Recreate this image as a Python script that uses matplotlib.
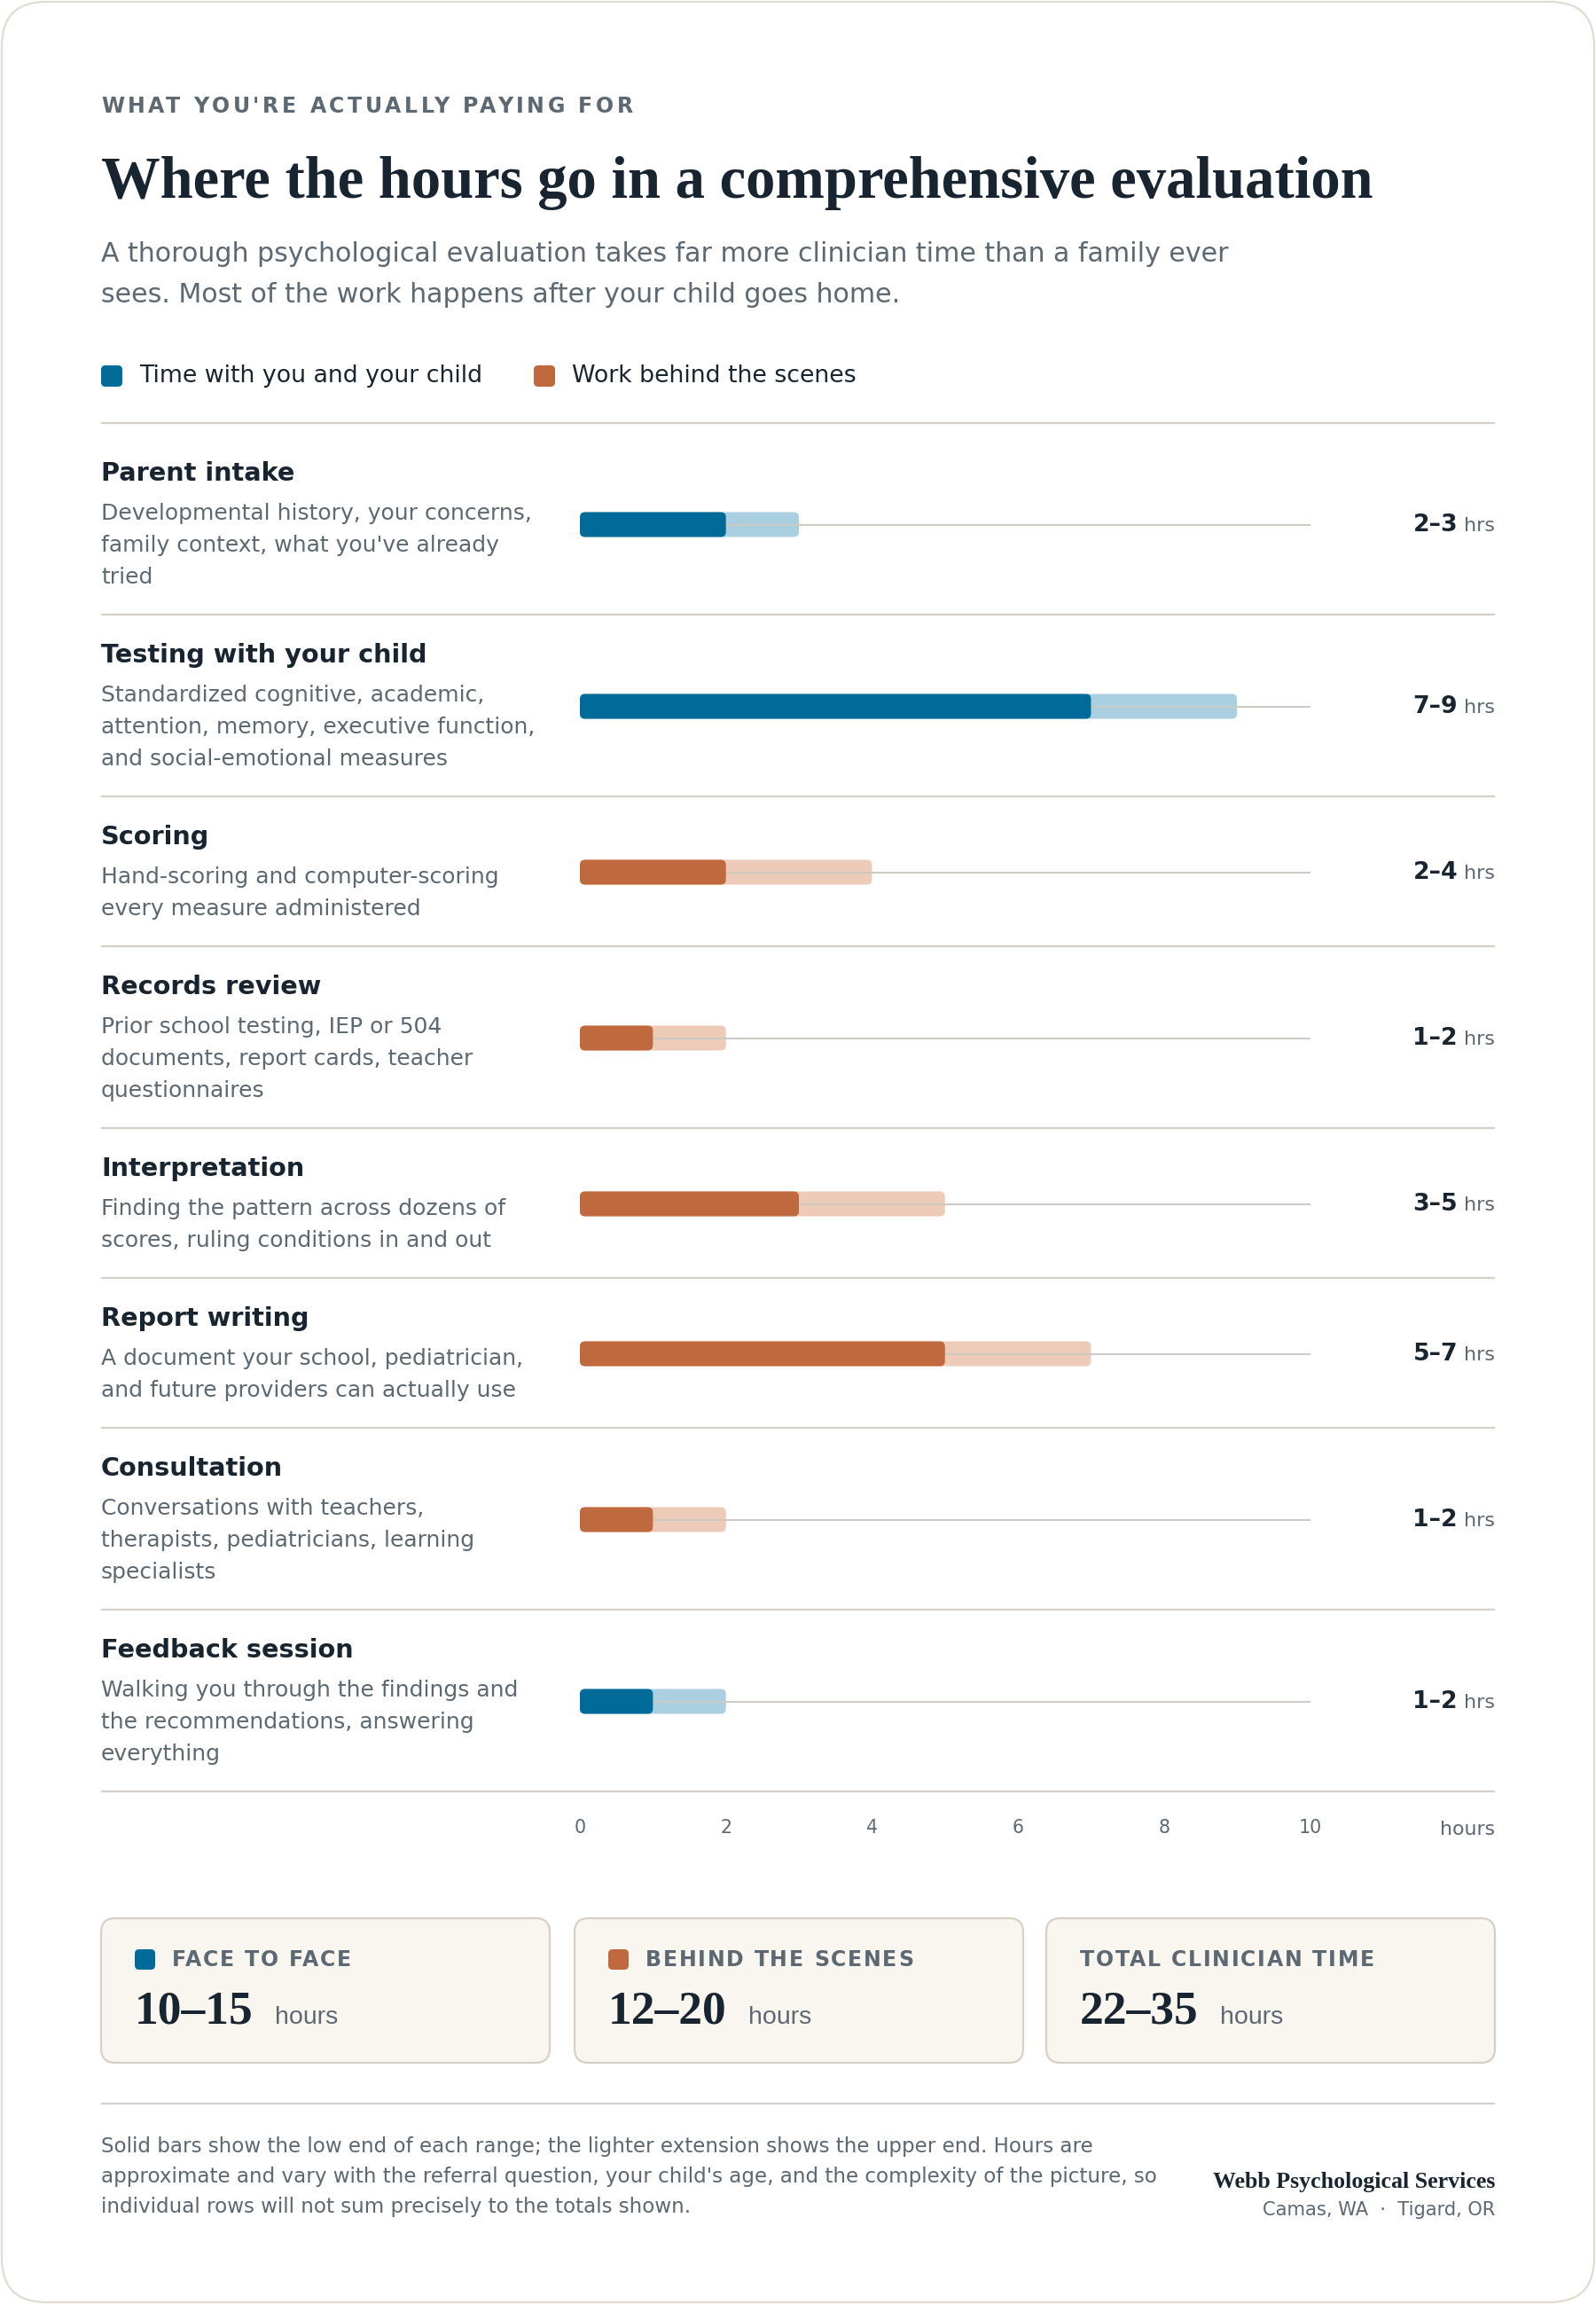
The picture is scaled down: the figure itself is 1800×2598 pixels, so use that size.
import matplotlib
matplotlib.use("Agg")
from matplotlib import pyplot as plt
from matplotlib.patches import FancyBboxPatch

# ---- data ----
tasks = ["Parent intake", "Testing with your child", "Scoring", "Records review",
         "Interpretation", "Report writing", "Consultation", "Feedback session"]
descs = [
    ["Developmental history, your concerns,", "family context, what you've already", "tried"],
    ["Standardized cognitive, academic,", "attention, memory, executive function,", "and social-emotional measures"],
    ["Hand-scoring and computer-scoring", "every measure administered"],
    ["Prior school testing, IEP or 504", "documents, report cards, teacher", "questionnaires"],
    ["Finding the pattern across dozens of", "scores, ruling conditions in and out"],
    ["A document your school, pediatrician,", "and future providers can actually use"],
    ["Conversations with teachers,", "therapists, pediatricians, learning", "specialists"],
    ["Walking you through the findings and", "the recommendations, answering", "everything"],
]
low_hrs = [2, 7, 2, 1, 3, 5, 1, 1]
high_hrs = [3, 9, 4, 2, 5, 7, 2, 2]
kinds = ["face", "face", "behind", "behind", "behind", "behind", "behind", "face"]
x_ticks = [0, 2, 4, 6, 8, 10]

legend_labels = ["Time with you and your child", "Work behind the scenes"]
card_labels = ["FACE TO FACE", "BEHIND THE SCENES", "TOTAL CLINICIAN TIME"]
card_values = ["10\u201315", "12\u201320", "22\u201335"]
card_kinds = ["face", "behind", None]

footnote = ["Solid bars show the low end of each range; the lighter extension shows the upper end. Hours are",
            "approximate and vary with the referral question, your child's age, and the complexity of the picture, so",
            "individual rows will not sum precisely to the totals shown."]

# ---- colours ----
solid = {"face": "#006b98", "behind": "#c0693f"}
light = {"face": "#a9cfe1", "behind": "#eecbb8"}
DARK = "#18242f"
GRAY = "#5c6872"
RULE = "#d5d0c8"
TRACK = "#cdc9c2"

W, H = 1800, 2598
fig = plt.figure(figsize=(W / 100, H / 100), dpi=100)
fig.patch.set_facecolor("white")
bg = fig.add_axes([0, 0, 1, 1])
bg.set_xlim(0, W)
bg.set_ylim(H, 0)
bg.axis("off")
R = fig.canvas.get_renderer()

L, RGT = 114, 1686


def text_w(s, **kw):
    t = bg.text(0, 0, s, **kw)
    w = t.get_window_extent(renderer=R).width
    t.remove()
    return w


def spaced(x, y, s, target, **kw):
    # letter-spaced caps, spacing chosen so the word fills target width
    sp = (target - text_w(s, **kw)) / (len(s) - 1)
    for i, ch in enumerate(s):
        if ch == " ":
            continue
        bg.text(x + text_w(s[:i + 1], **kw) + i * sp, y, ch, ha="right", **kw)


def rbox(x, y, w, h, r, **kw):
    bg.add_patch(FancyBboxPatch((x, y), w, h, boxstyle=f"round,pad=0,rounding_size={r}", **kw))


def hline(y, x0=L, x1=RGT):
    bg.plot([x0, x1], [y, y], color=RULE, lw=1.6, solid_capstyle="butt")


# outer frame
rbox(2, 2, W - 4, H - 4, 50, fc="white", ec="#e2dbd0", lw=1.6)

# header
spaced(L, 120, "WHAT YOU'RE ACTUALLY PAYING FOR", 600, fontsize=17, fontweight="bold",
       color=GRAY, va="center", family="DejaVu Sans")
bg.text(L, 223, "Where the hours go in a comprehensive evaluation", fontsize=48,
        fontweight="bold", family="Liberation Serif", color=DARK, va="baseline")
bg.text(L, 286, "A thorough psychological evaluation takes far more clinician time than a family ever",
        fontsize=21.6, color=GRAY, va="center")
bg.text(L, 332, "sees. Most of the work happens after your child goes home.",
        fontsize=21.6, color=GRAY, va="center")

# legend
for lx, tx, k, lab in [(114, 157, "face", legend_labels[0]), (602, 645, "behind", legend_labels[1])]:
    rbox(lx, 412, 24, 24, 5, fc=solid[k], ec="none")
    bg.text(tx, 424, lab, fontsize=19.3, color=DARK, va="center")

# rows
top, bottom = 477, 2017
ax = fig.add_axes([654 / W, 1 - bottom / H, (1477.5 - 654) / W, (bottom - top) / H])
ax.set_xlim(0, 10)
ax.set_ylim(bottom, top)
ax.axis("off")
hr_px = (1477.5 - 654) / 10

hline(top)
d = top + 11
for i, name in enumerate(tasks):
    nl = len(descs[i])
    rh = 97 + 36 * nl
    bg.text(L, d + 46, name, fontsize=20.7, fontweight="bold", color=DARK, va="center")
    for j, line in enumerate(descs[i]):
        bg.text(L, d + 91 + 36 * j, line, fontsize=18, color=GRAY, va="center")
    cy = d + rh / 2 + 1
    k = kinds[i]
    bh = 28
    ax.add_patch(FancyBboxPatch((0, cy - bh / 2), high_hrs[i], bh,
                                boxstyle="round,pad=0,rounding_size=0.07",
                                mutation_aspect=hr_px, fc=light[k], ec="none", zorder=1))
    ax.plot([0, 10], [cy, cy], color=TRACK, lw=1.4, zorder=2)
    ax.add_patch(FancyBboxPatch((0, cy - bh / 2), low_hrs[i], bh,
                                boxstyle="round,pad=0,rounding_size=0.07",
                                mutation_aspect=hr_px, fc=solid[k], ec="none", zorder=3))
    # value label
    hw = text_w("hrs", fontsize=16)
    bg.text(RGT, cy + 1, "hrs", fontsize=16, color=GRAY, ha="right", va="center")
    bg.text(RGT - hw - 7, cy, f"{low_hrs[i]}\u2013{high_hrs[i]}", fontsize=19.3, fontweight="bold",
            color=DARK, ha="right", va="center")
    d += rh
    hline(d)

# x axis labels
for t in x_ticks:
    bg.text(654 + t * hr_px, 2061, str(t), fontsize=14.8, color=GRAY, ha="center", va="center")
bg.text(RGT, 2063, "hours", fontsize=15.8, color=GRAY, ha="right", va="center")

# summary cards
cx = [114, 648, 1180]
for i in range(3):
    rbox(cx[i], 2163, 506, 163, 16, fc="#f9f6f0", ec="#d8d0c4", lw=1.6)
    tx = cx[i] + 38
    if card_kinds[i]:
        rbox(tx, 2198, 23, 23, 5, fc=solid[card_kinds[i]], ec="none")
        tx += 42
    spaced(tx, 2210, card_labels[i], [202, 302, 332][i], fontsize=17, fontweight="bold",
           color=GRAY, va="center")
    nx = cx[i] + 38
    bg.text(nx, 2282, card_values[i], fontsize=38.5, fontweight="bold", family="Liberation Serif",
            color=DARK, va="baseline")
    nw = text_w(card_values[i], fontsize=38.5, fontweight="bold", family="Liberation Serif")
    bg.text(nx + nw + 24, 2282, "hours", fontsize=20.5, family="Liberation Sans", color=GRAY,
            va="baseline")

# footer
hline(2372)
for j, line in enumerate(footnote):
    bg.text(L, 2421 + 34 * j, line, fontsize=16.6, color=GRAY, va="center")
bg.text(RGT, 2460, "Webb Psychological Services", fontsize=18.6, fontweight="bold",
        family="Liberation Serif", color=DARK, ha="right", va="center")
bg.text(RGT, 2492, "Camas, WA  \u00b7  Tigard, OR", fontsize=15.1, color=GRAY, ha="right", va="center")

fig.savefig("out.png", dpi=100, facecolor="white")
